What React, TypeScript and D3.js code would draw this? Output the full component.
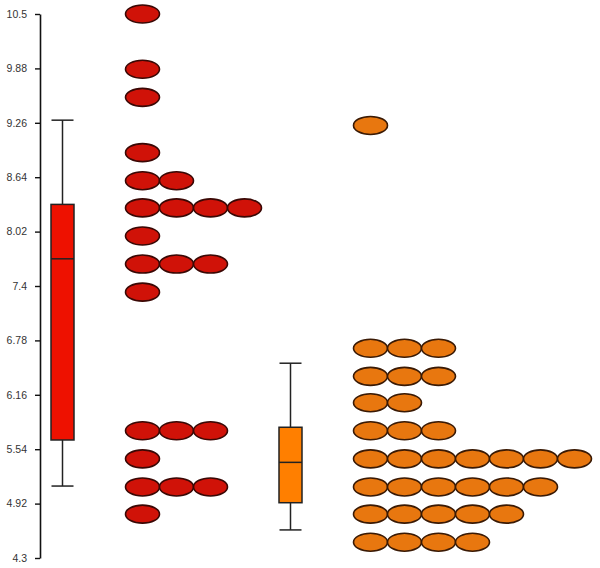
import React from "react";
import * as d3 from "d3";

const groups = ["A", "B"];
const tickValues = [4.3, 4.92, 5.54, 6.16, 6.78, 7.4, 8.02, 8.64, 9.26, 9.88, 10.5];

const redRowValues = [10.5, 9.87, 9.55, 8.92, 8.6, 8.29, 7.97, 7.65, 7.33, 5.75, 5.43, 5.11, 4.8];
const redRowCounts = [1, 1, 1, 1, 2, 4, 1, 3, 1, 3, 1, 3, 1];
const orangeRowValues = [9.23, 6.69, 6.37, 6.07, 5.75, 5.43, 5.11, 4.8, 4.48];
const orangeRowCounts = [1, 3, 3, 2, 3, 7, 6, 5, 4];

const redBox = [5.12, 5.645, 7.71, 8.33, 9.29];
const orangeBox = [4.62, 4.93, 5.39, 5.79, 6.52];

const W = 600;
const H = 568;

const y = d3.scaleLinear().domain([4.3, 10.5]).range([558, 14]);
const gx = d3.scalePoint<string>().domain(groups).range([62.5, 290.5]);
const col = d3.scaleLinear().domain([0, 1]).range([80, 114]);

const styles = [
  { box: "#ee1100", dot: "#d01208", dotStroke: "#3a0805" },
  { box: "#ff7f00", dot: "#e8770f", dotStroke: "#3a1a05" },
];

function Axis() {
  const ref = React.useRef<SVGGElement>(null);
  React.useEffect(() => {
    if (!ref.current) return;
    const g = d3.select(ref.current);
    g.selectAll("*").remove();
    g.call(
      d3
        .axisLeft(y)
        .tickValues(tickValues)
        .tickFormat((d) => String(d))
        .tickSize(5)
        .tickSizeOuter(0)
        .tickPadding(8)
    );
    g.select(".domain").attr("stroke", "#111").attr("stroke-width", 1.6);
    g.selectAll(".tick line").attr("stroke", "#111").attr("stroke-width", 1.4);
    g.selectAll(".tick text")
      .attr("fill", "#333")
      .style("font-family", "Liberation Sans, Arial, sans-serif")
      .style("font-size", "10.5px");
  }, []);
  return <g ref={ref} transform="translate(40,0)" />;
}

function BoxPlot({ stats, cx, fill }: { stats: number[]; cx: number; fill: string }) {
  const [mn, q1, md, q3, mx] = stats;
  const hw = 11.5;
  const cw = 11;
  const stroke = "#222";
  return (
    <g>
      <line x1={cx} x2={cx} y1={y(mx)} y2={y(q3)} stroke={stroke} strokeWidth={1.5} />
      <line x1={cx} x2={cx} y1={y(q1)} y2={y(mn)} stroke={stroke} strokeWidth={1.5} />
      <line x1={cx - cw} x2={cx + cw} y1={y(mx)} y2={y(mx)} stroke={stroke} strokeWidth={1.5} />
      <line x1={cx - cw} x2={cx + cw} y1={y(mn)} y2={y(mn)} stroke={stroke} strokeWidth={1.5} />
      <rect x={cx - hw} y={y(q3)} width={hw * 2} height={y(q1) - y(q3)} fill={fill} stroke={stroke} strokeWidth={1.5} />
      <line x1={cx - hw} x2={cx + hw} y1={y(md)} y2={y(md)} stroke={stroke} strokeWidth={1.5} />
    </g>
  );
}

function Dots({ values, counts, cx, fill, stroke }: { values: number[]; counts: number[]; cx: number; fill: string; stroke: string }) {
  const items: { x: number; y: number; k: string }[] = [];
  values.forEach((v, r) => {
    for (let i = 0; i < counts[r]; i++) {
      items.push({ x: cx + col(i), y: y(v), k: `${r}-${i}` });
    }
  });
  return (
    <g>
      {items.map((d) => (
        <ellipse key={d.k} cx={d.x} cy={d.y} rx={17} ry={9} fill={fill} stroke={stroke} strokeWidth={1.6} />
      ))}
    </g>
  );
}

export default function App() {
  const series = [
    { values: redRowValues, counts: redRowCounts, box: redBox },
    { values: orangeRowValues, counts: orangeRowCounts, box: orangeBox },
  ];
  return (
    <svg width={W} height={H} style={{ position: "absolute", left: 0, top: 0, background: "#fff" }}>
      <rect width={W} height={H} fill="#fff" />
      {series.map((s, i) => (
        <g key={groups[i]}>
          <BoxPlot stats={s.box} cx={gx(groups[i])!} fill={styles[i].box} />
          <Dots values={s.values} counts={s.counts} cx={gx(groups[i])!} fill={styles[i].dot} stroke={styles[i].dotStroke} />
        </g>
      ))}
      <Axis />
    </svg>
  );
}
